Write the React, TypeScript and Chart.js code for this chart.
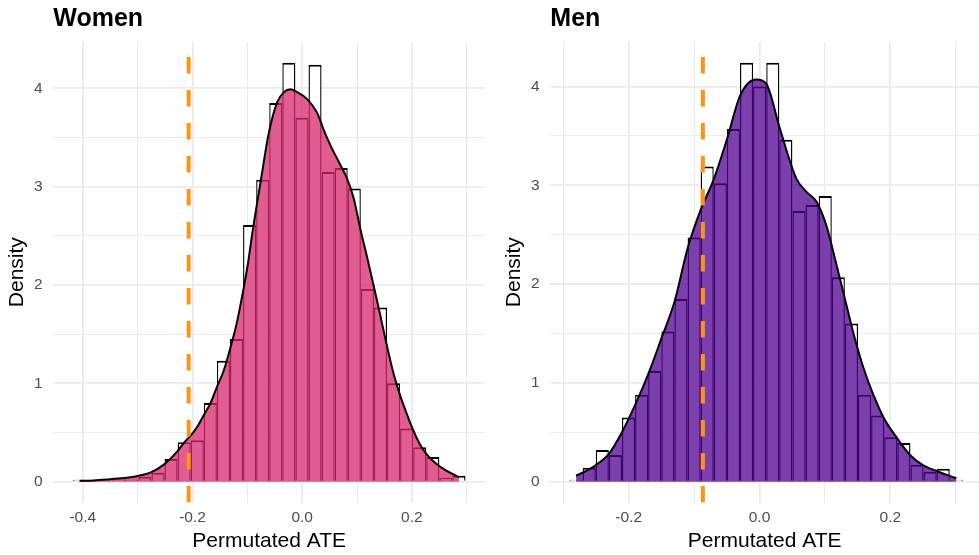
import React, { useEffect, useRef } from "react";
import { Chart, registerables } from "chart.js";

Chart.register(...registerables);

const FONT = "'Liberation Sans', Arial, Helvetica, sans-serif";
const GRID = "#EBEBEB";
const ORANGE = "#FF9412";

// ---------- Women ----------
const WOMEN_BIN_CENTERS = [
  -0.4061, -0.3822, -0.3584, -0.3345, -0.3106, -0.2868, -0.2629, -0.2391, -0.2152, -0.1913,
  -0.1675, -0.1436, -0.1197, -0.0959, -0.072, -0.0482, -0.0243, -0.0004, 0.0234, 0.0473,
  0.0711, 0.095, 0.1189, 0.1427, 0.1666, 0.1904, 0.2143, 0.2382, 0.262, 0.2859,
];
const WOMEN_HIST = [
  0.02, 0, 0, 0.04, 0.02, 0.05, 0.09, 0.23, 0.4, 0.42,
  0.8, 1.23, 1.45, 2.61, 3.07, 3.85, 4.26, 3.7, 4.24, 3.15,
  3.19, 2.98, 1.96, 1.77, 1.0, 0.54, 0.35, 0.25, 0.04, 0.06,
];
const WOMEN_CURVE_X = [
  -0.406, -0.38, -0.35, -0.32, -0.3, -0.2758, -0.2516, -0.2273, -0.215, -0.203,
  -0.191, -0.179, -0.167, -0.155, -0.143, -0.131, -0.119, -0.109, -0.1, -0.0895,
  -0.0758, -0.0607, -0.0455, -0.0335, -0.0213, -0.0091, 0.009, 0.0273, 0.039, 0.0515,
  0.0697, 0.082, 0.094, 0.106, 0.118, 0.13, 0.142, 0.155, 0.167, 0.179,
  0.191, 0.203, 0.2145, 0.227, 0.2455, 0.2636, 0.2859,
];
const WOMEN_CURVE_Y = [
  0.008, 0.012, 0.025, 0.04, 0.058, 0.095, 0.176, 0.31, 0.4, 0.47,
  0.56, 0.68, 0.8, 0.97, 1.13, 1.36, 1.62, 1.9, 2.18, 2.58,
  3.05, 3.55, 3.86, 3.96, 3.99, 3.96, 3.89, 3.75, 3.58, 3.42,
  3.22, 3.08, 2.88, 2.57, 2.29, 2.0, 1.7, 1.37, 1.09, 0.87,
  0.685, 0.516, 0.38, 0.278, 0.176, 0.109, 0.045,
];
const WOMEN_OBSERVED = -0.207;
const WOMEN_X_RANGE = [-0.4538, 0.3333];
const WOMEN_Y_RANGE = [-0.213, 4.473];
const WOMEN_X_TICKS = [-0.4, -0.3, -0.2, -0.1, 0, 0.1, 0.2, 0.3];

// ---------- Men ----------
const MEN_BIN_CENTERS = [
  -0.2805, -0.2604, -0.2404, -0.2203, -0.2003, -0.1802, -0.1602, -0.1401, -0.1201, -0.1,
  -0.08, -0.0599, -0.0399, -0.0198, 0.0002, 0.0203, 0.0403, 0.0604, 0.0804, 0.1005,
  0.1205, 0.1406, 0.1606, 0.1807, 0.2007, 0.2208, 0.2408, 0.2609, 0.2809, 0.301,
];
const MEN_HIST = [
  0.02, 0.14, 0.32, 0.27, 0.65, 0.88, 1.12, 1.52, 1.85, 2.47,
  3.19, 3.02, 3.57, 4.24, 4.0, 4.24, 3.46, 2.74, 2.8, 2.89,
  2.07, 1.6, 0.88, 0.67, 0.45, 0.39, 0.17, 0.1, 0.13, 0.02,
];
const MEN_CURVE_X = [
  -0.2805, -0.2706, -0.2507, -0.2303, -0.2104, -0.19, -0.17, -0.15, -0.13, -0.11,
  -0.09, -0.07, -0.05, -0.0295, -0.005, 0.01, 0.03, 0.0467, 0.0569, 0.0722,
  0.0875, 0.1028, 0.113, 0.128, 0.1437, 0.159, 0.174, 0.1896, 0.2098, 0.2301,
  0.2505, 0.2708, 0.291, 0.301,
];
const MEN_CURVE_Y = [
  0.06, 0.09, 0.165, 0.28, 0.5, 0.78, 1.09, 1.45, 1.82, 2.36,
  2.75, 3.06, 3.46, 3.91, 4.07, 4.03, 3.6, 3.24, 3.06, 2.93,
  2.83, 2.58, 2.32, 1.92, 1.5, 1.15, 0.88, 0.65, 0.446, 0.27,
  0.165, 0.108, 0.058, 0.035,
];
const MEN_OBSERVED = -0.0866;
const MEN_X_RANGE = [-0.3199, 0.3356];
const MEN_Y_RANGE = [-0.212, 4.452];
const MEN_X_TICKS = [-0.3, -0.2, -0.1, 0, 0.1, 0.2, 0.3];

const Y_TICKS = [0, 0.5, 1, 1.5, 2, 2.5, 3, 3.5, 4];

const isMajorX = (v: number) => Math.abs(v * 5 - Math.round(v * 5)) < 1e-6;
const isMajorY = (v: number) => Math.abs(v - Math.round(v)) < 1e-6;

type PanelProps = {
  title: string;
  bins: number[];
  hist: number[];
  curveX: number[];
  curveY: number[];
  observed: number;
  xRange: number[];
  yRange: number[];
  xTicks: number[];
  fill: string;
  width: number;
  left: number;
  yAxisWidth: number;
  yTitlePad: number;
  rightPad: number;
};

function Panel(p: PanelProps) {
  const ref = useRef<HTMLCanvasElement | null>(null);
  useEffect(() => {
    if (!ref.current) return;
    const chart = new Chart(ref.current, {
      type: "bar",
      data: {
        datasets: [
          {
            type: "line",
            label: "observed",
            data: [
              { x: p.observed, y: p.yRange[0] },
              { x: p.observed, y: p.yRange[1] },
            ],
            borderColor: ORANGE,
            borderWidth: 4,
            borderDash: [16.5, 16.5],
            pointRadius: 0,
            fill: false,
            order: 1,
          } as any,
          {
            type: "line",
            label: "density",
            data: p.curveX.map((x, i) => ({ x, y: p.curveY[i] })),
            borderColor: "#000000",
            borderWidth: 2,
            backgroundColor: p.fill,
            fill: "origin",
            pointRadius: 0,
            cubicInterpolationMode: "monotone",
            order: 2,
          } as any,
          {
            type: "bar",
            label: "histogram",
            data: p.bins.map((x, i) => ({ x, y: p.hist[i] })),
            backgroundColor: "#ffffff",
            borderColor: "#000000",
            borderWidth: { top: 2, left: 1.4, right: 1.4, bottom: 0 },
            borderSkipped: false,
            barPercentage: 1,
            categoryPercentage: 1,
            inflateAmount: 0,
            order: 3,
          } as any,
        ],
      },
      options: {
        responsive: false,
        animation: false,
        events: [],
        layout: { padding: { left: 0, right: p.rightPad, top: 0, bottom: 0 } },
        plugins: {
          legend: { display: false },
          tooltip: { enabled: false },
          title: {
            display: true,
            text: p.title,
            align: "start",
            fullSize: false,
            color: "#000000",
            font: { family: FONT, size: 25, weight: "bold", lineHeight: 1.2 },
            padding: { top: 4.5, bottom: 7.3 },
          },
        },
        scales: {
          x: {
            type: "linear",
            min: p.xRange[0],
            max: p.xRange[1],
            offset: false,
            bounds: "data",
            grid: {
              offset: false,
              color: GRID,
              drawTicks: false,
              lineWidth: (ctx: any) => (ctx.tick && isMajorX(ctx.tick.value) ? 1.8 : 1),
            },
            border: { display: false },
            afterBuildTicks: (s: any) => {
              s.ticks = p.xTicks.map((v) => ({ value: v }));
            },
            afterFit: (s: any) => {
              s.height = 52.4;
            },
            ticks: {
              autoSkip: false,
              maxRotation: 0,
              minRotation: 0,
              padding: 6.3,
              color: "#4D4D4D",
              font: { family: FONT, size: 15.5, lineHeight: 1.2 },
              callback: (v: any) => (isMajorX(Number(v)) ? Number(v).toFixed(1) : ""),
            },
            title: {
              display: true,
              text: "Permutated ATE",
              color: "#000000",
              font: { family: FONT, size: 21, lineHeight: 1.2 },
              padding: { top: 0, bottom: 1.2 },
            },
          } as any,
          y: {
            type: "linear",
            min: p.yRange[0],
            max: p.yRange[1],
            bounds: "data",
            grid: {
              color: GRID,
              drawTicks: false,
              lineWidth: (ctx: any) => (ctx.tick && isMajorY(ctx.tick.value) ? 1.8 : 1),
            },
            border: { display: false },
            afterBuildTicks: (s: any) => {
              s.ticks = Y_TICKS.map((v) => ({ value: v }));
            },
            afterFit: (s: any) => {
              s.width = p.yAxisWidth;
            },
            ticks: {
              padding: 10.6,
              color: "#4D4D4D",
              font: { family: FONT, size: 15.5, lineHeight: 1.2 },
              callback: (v: any) => (isMajorY(Number(v)) ? String(Math.round(Number(v))) : ""),
            },
            title: {
              display: true,
              text: "Density",
              color: "#000000",
              font: { family: FONT, size: 21, lineHeight: 1.2 },
              padding: { top: p.yTitlePad, bottom: 0 },
            },
          } as any,
        },
      },
    } as any);
    return () => chart.destroy();
  }, []);
  return (
    <canvas
      ref={ref}
      width={p.width}
      height={555}
      style={{ position: "absolute", left: p.left, top: 0, width: p.width, height: 555, display: "block" }}
    />
  );
}

export default function App() {
  return (
    <div
      style={{
        position: "fixed",
        left: 0,
        top: 0,
        width: 979,
        height: 555,
        background: "#ffffff",
        overflow: "hidden",
      }}
    >
      <Panel
        title="Women"
        bins={WOMEN_BIN_CENTERS}
        hist={WOMEN_HIST}
        curveX={WOMEN_CURVE_X}
        curveY={WOMEN_CURVE_Y}
        observed={WOMEN_OBSERVED}
        xRange={WOMEN_X_RANGE}
        yRange={WOMEN_Y_RANGE}
        xTicks={WOMEN_X_TICKS}
        fill="rgba(215, 38, 108, 0.75)"
        width={490}
        left={0}
        yAxisWidth={53.3}
        yTitlePad={4.4}
        rightPad={5}
      />
      <Panel
        title="Men"
        bins={MEN_BIN_CENTERS}
        hist={MEN_HIST}
        curveX={MEN_CURVE_X}
        curveY={MEN_CURVE_Y}
        observed={MEN_OBSERVED}
        xRange={MEN_X_RANGE}
        yRange={MEN_Y_RANGE}
        xTicks={MEN_X_TICKS}
        fill="rgba(80, 0, 146, 0.75)"
        width={489}
        left={490}
        yAxisWidth={60.3}
        yTitlePad={11.6}
        rightPad={0}
      />
    </div>
  );
}
